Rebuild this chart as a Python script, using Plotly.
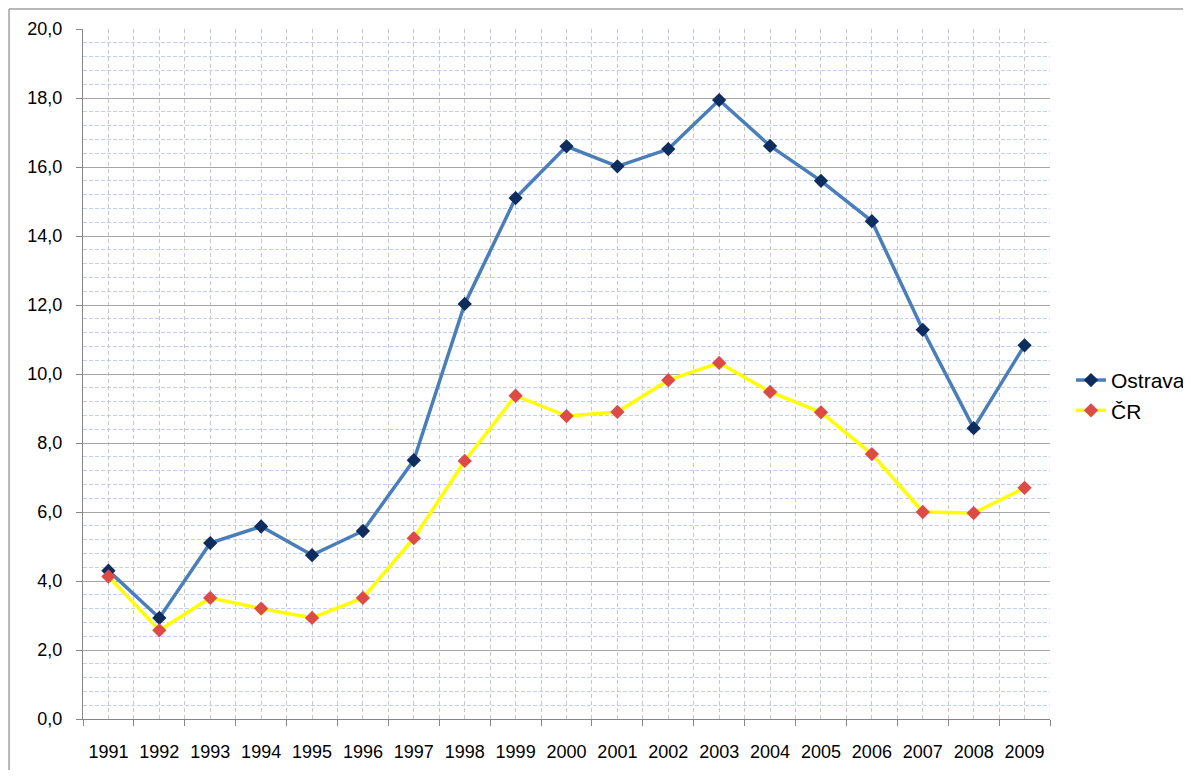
import plotly.graph_objects as go

years = [str(y) for y in range(1991, 2010)]
ostrava = [4.3, 2.93, 5.1, 5.58, 4.75, 5.45, 7.5, 12.03, 15.1, 16.6, 16.02, 16.52, 17.94, 16.61, 15.6, 14.43, 11.28, 8.43, 10.83]
cr = [4.13, 2.57, 3.51, 3.2, 2.93, 3.51, 5.24, 7.48, 9.37, 8.78, 8.9, 9.82, 10.32, 9.48, 8.89, 7.68, 6.0, 5.97, 6.7]
y_ticks = [0, 2, 4, 6, 8, 10, 12, 14, 16, 18, 20]

xpos = list(range(len(years)))

fig = go.Figure()
fig.add_trace(go.Scatter(
    x=xpos, y=ostrava, name="Ostrava", mode="lines+markers",
    line=dict(color="#4A7EBB", width=3.5),
    marker=dict(symbol="diamond", size=11, color="#0E2C5E"),
))
fig.add_trace(go.Scatter(
    x=xpos, y=cr, name="ČR", mode="lines+markers",
    line=dict(color="#FFFF00", width=3.5),
    marker=dict(symbol="diamond", size=11, color="#DE4B47"),
))

font = "Liberation Sans, Arial, sans-serif"
vdash = "4px,3px"

fig.update_layout(
    width=1183, height=762,
    margin=dict(l=75, r=141, t=21, b=51, autoexpand=False),
    paper_bgcolor="white", plot_bgcolor="white",
    separators=", ",
    font=dict(family=font, size=18, color="#000000"),
    showlegend=True,
    legend=dict(x=1.0217, y=0.469, xanchor="left", yanchor="middle",
                font=dict(size=21, family=font), tracegroupgap=0,
                itemwidth=30, bgcolor="rgba(0,0,0,0)"),
    xaxis=dict(
        range=[-0.5, len(years) - 0.5], automargin=False,
        tickmode="array", tickvals=xpos, ticktext=years,
        showgrid=True, gridcolor="#C8C8C8", griddash=vdash, gridwidth=1,
        ticks="", zeroline=False,
        showline=True, linecolor="#868686", linewidth=1,
        tickfont=dict(size=18),
        ticklabelstandoff=16,
        minor=dict(tickvals=[i - 0.5 for i in range(len(years) + 1)],
                   showgrid=True, gridcolor="#C8C8C8", griddash=vdash, gridwidth=1,
                   ticks="outside", ticklen=6, tickcolor="#868686"),
    ),
    yaxis=dict(
        range=[0, 20], tickmode="array", tickvals=y_ticks, automargin=False,
        tickformat=".1f",
        showgrid=True, gridcolor="#A6A6A6", gridwidth=1,
        ticks="outside", ticklen=6, tickcolor="#868686",
        showline=True, linecolor="#868686", linewidth=1,
        zeroline=False,
        tickfont=dict(size=18),
        ticklabelstandoff=10,
        minor=dict(dtick=0.4, tick0=0, showgrid=True, gridcolor="#BFD0F2",
                   griddash="4px,2px", gridwidth=1),
    ),
)

# outer chart-area border (left and top edges visible)
fig.add_shape(type="line", xref="paper", yref="paper",
              x0=-0.0765, x1=-0.0765, y0=-0.2, y1=1.029,
              line=dict(color="#A0A0A0", width=1.5))
fig.add_shape(type="line", xref="paper", yref="paper",
              x0=-0.0765, x1=1.3, y0=1.029, y1=1.029,
              line=dict(color="#A0A0A0", width=1.5))

fig.write_html("out.html")
